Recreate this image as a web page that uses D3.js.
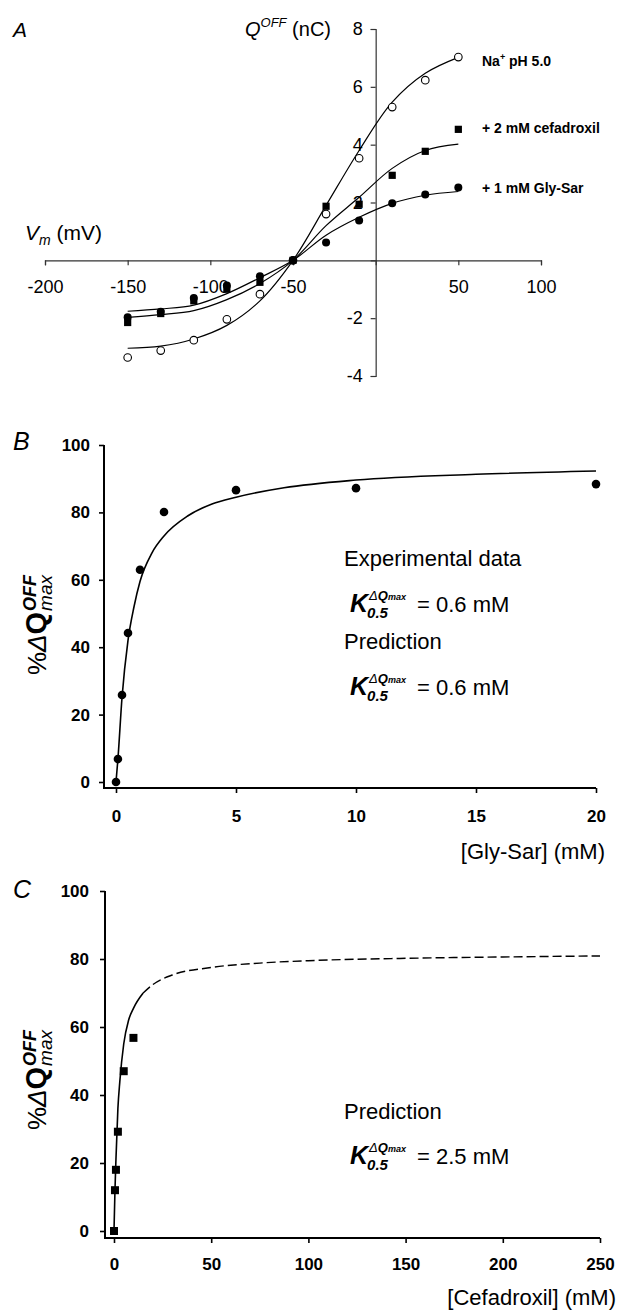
<!DOCTYPE html>
<html>
<head>
<meta charset="utf-8">
<script src="https://cdn.jsdelivr.net/npm/d3@7"></script>
<style>
  body { margin: 0; background: #fff; }
  svg { display: block; }
  text { font-family: "Liberation Sans", Arial, Helvetica, sans-serif; fill: #000; }
</style>
</head>
<body>
<svg id="fig" width="637" height="1311"></svg>
<script>
// ---- panel A: charge–voltage data ----
const voltages = [-150, -130, -110, -90, -70, -50, -30, -10, 10, 30, 50];
const qNaPH5 = [-3.36, -3.12, -2.76, -2.04, -1.17, 0, 1.6, 3.53, 5.3, 6.23, 7.03];
const qCefadroxil = [-2.15, -1.84, -1.4, -1.0, -0.76, 0, 1.87, 1.94, 2.94, 3.77, 4.53];
const qGlySar = [-1.97, -1.78, -1.3, -0.87, -0.55, 0, 0.62, 1.38, 1.97, 2.28, 2.52];
// fitted curves
const fitNaPH5 = [-3.04, -2.97, -2.72, -2.25, -1.4, 0, 1.9, 3.8, 5.47, 6.47, 7.02];
const fitCefadroxil = [-1.97, -1.88, -1.74, -1.36, -0.8, 0, 1.2, 2.18, 3.18, 3.8, 4.02];
const fitGlySar = [-1.76, -1.68, -1.55, -1.15, -0.6, 0, 0.87, 1.49, 1.97, 2.25, 2.38];
const vTicks = [-200, -150, -100, -50, 0, 50, 100];
const qTicks = [-4, -2, 0, 2, 4, 6, 8];
const seriesLabels = ["Na\u207A pH 5.0", "+ 2 mM cefadroxil", "+ 1 mM Gly-Sar"];

// ---- panel B: Gly-Sar dose response ----
const glySarConc = [0, 0.08, 0.25, 0.5, 1, 2, 5, 10, 20];
const glySarPct = [0, 6.8, 25.8, 44.2, 63, 80.1, 86.6, 87.2, 88.4];
const glySarFitConc = [0, 0.08, 0.25, 0.5, 0.75, 1, 1.5, 2, 3, 4, 5, 7, 10, 15, 20];
const glySarFitPct = [0, 6.8, 25, 42, 52, 59.5, 68, 73, 79, 82.5, 84.5, 87.3, 89.6, 91.3, 92.3];
const glySarTicks = [0, 5, 10, 15, 20];

// ---- panel C: cefadroxil dose response ----
const cefConc = [0, 0.5, 1, 2, 5, 10];
const cefPct = [0, 12, 18, 29.2, 47, 56.8];
const cefFitConc = [0, 0.5, 1, 2, 3, 5, 7.5, 10, 15];
const cefFitPct = [0, 12, 21, 36, 44, 55, 62, 65.5, 70];
const cefPredConc = [15, 20, 30, 50, 75, 100, 150, 200, 250];
const cefPredPct = [70, 72.5, 75.3, 77.5, 78.8, 79.5, 80.2, 80.6, 80.9];
const cefTicks = [0, 50, 100, 150, 200, 250];
const pctTicks = [0, 20, 40, 60, 80, 100];

const svg = d3.select("#fig");
const FONT = '"Liberation Sans", Arial, Helvetica, sans-serif';

// d3.axis writes font attrs on the group it is called on, so set ours afterwards
function styleAxis(g, size, weight) {
  g.attr("font-family", FONT).attr("font-size", size).attr("font-weight", weight);
  g.selectAll("text").attr("fill", "#000");
}

// ================= Panel A =================
const xA = d3.scaleLinear().domain([-200, 100]).range([45, 541]);
const yA = d3.scaleLinear().domain([-4, 8]).range([376, 29]);
const gA = svg.append("g");

const hideZero = d => (d === 0 ? "" : String(d));
const axA = gA.append("g");
axA.append("g")
  .attr("transform", `translate(0,${yA(0)})`)
  .call(d3.axisBottom(xA).tickValues(vTicks).tickSize(5).tickPadding(15).tickFormat(hideZero))
  .call(styleAxis, 18, "normal");
axA.append("g")
  .attr("transform", `translate(${xA(0)},0)`)
  .call(d3.axisLeft(yA).tickValues(qTicks).tickSize(5).tickPadding(8).tickFormat(hideZero))
  .call(styleAxis, 18, "normal");
axA.selectAll("path, line").attr("stroke", "#333").attr("stroke-width", 1.2);

const lineA = d3.line()
  .x(d => xA(d[0])).y(d => yA(d[1]))
  .curve(d3.curveCatmullRom.alpha(0.5));
[fitNaPH5, fitCefadroxil, fitGlySar].forEach(fit => {
  gA.append("path")
    .attr("d", lineA(d3.zip(voltages, fit)))
    .attr("fill", "none").attr("stroke", "#000").attr("stroke-width", 1.2);
});

gA.append("g").selectAll("circle")
  .data(d3.zip(voltages, qNaPH5)).join("circle")
  .attr("cx", d => xA(d[0])).attr("cy", d => yA(d[1])).attr("r", 3.8)
  .attr("fill", "#fff").attr("stroke", "#000").attr("stroke-width", 1.1);
gA.append("g").selectAll("circle")
  .data(d3.zip(voltages, qGlySar)).join("circle")
  .attr("cx", d => xA(d[0])).attr("cy", d => yA(d[1])).attr("r", 4)
  .attr("fill", "#000");
gA.append("g").selectAll("rect")
  .data(d3.zip(voltages, qCefadroxil)).join("rect")
  .attr("x", d => xA(d[0]) - 3.6).attr("y", d => yA(d[1]) - 3.6)
  .attr("width", 7.2).attr("height", 7.2).attr("fill", "#000");

// axis titles
const qTitle = gA.append("text").attr("x", 245).attr("y", 36).attr("font-size", 20);
qTitle.append("tspan").attr("font-style", "italic").text("Q");
qTitle.append("tspan").attr("font-style", "italic").attr("font-size", 13).attr("dy", -9).text("OFF");
qTitle.append("tspan").attr("dy", 9).text(" (nC)");

const vTitle = gA.append("text").attr("x", 25).attr("y", 240).attr("font-size", 21);
vTitle.append("tspan").attr("font-style", "italic").text("V");
vTitle.append("tspan").attr("font-style", "italic").attr("font-size", 14).attr("dy", 5).text("m");
vTitle.append("tspan").attr("dy", -5).text(" (mV)");

// series labels
const labelY = [66, 133, 193];
seriesLabels.forEach((s, i) => {
  const t = gA.append("text").attr("x", 482).attr("y", labelY[i])
    .attr("font-size", 14).attr("font-weight", "bold");
  if (i === 0) {
    t.append("tspan").text("Na");
    t.append("tspan").attr("font-size", 9).attr("dy", -6).text("+");
    t.append("tspan").attr("dy", 6).text(" pH 5.0");
  } else {
    t.text(s);
  }
});

gA.append("text").attr("x", 13).attr("y", 37).attr("font-size", 21)
  .attr("font-style", "italic").text("A");

// ================= helpers for B and C =================
function satAxes(g, x, y, xTicks, opt) {
  const ax = g.append("g");
  ax.append("g")
    .attr("transform", `translate(0,${opt.axisY})`)
    .call(d3.axisBottom(x).tickValues(xTicks).tickSize(5).tickPadding(opt.xPad).tickFormat(d3.format("d")))
    .call(styleAxis, 17, "bold");
  ax.append("g")
    .attr("transform", `translate(${opt.axisX},0)`)
    .call(d3.axisLeft(y).tickValues(pctTicks).tickSize(5).tickPadding(opt.yPad).tickFormat(d3.format("d")))
    .call(styleAxis, 17, "bold");
  ax.selectAll(".domain").remove();
  ax.selectAll("line").attr("stroke", "#000").attr("stroke-width", 1.6);
  const xr = x.range(), yr = y.range();
  g.append("path")
    .attr("d", `M${opt.axisX},${yr[1]}V${opt.axisY}H${xr[1]}`)
    .attr("fill", "none").attr("stroke", "#000").attr("stroke-width", 2);
}

function pctLabel(cx, cy) {
  const g = svg.append("g").attr("transform", `translate(${cx},${cy}) rotate(-90)`);
  const inner = g.append("g");
  const t = inner.append("text").attr("x", 0).attr("y", 0);
  t.append("tspan").attr("font-size", 26).text("%");
  t.append("tspan").attr("font-size", 26).attr("font-style", "italic").text("\u0394");
  t.append("tspan").attr("font-size", 29).attr("font-weight", "bold").text("Q");
  const w = t.node().getComputedTextLength();
  const sup = inner.append("text").attr("x", w + 1).attr("y", -10)
    .attr("font-size", 18).attr("font-weight", "bold").attr("font-style", "italic").text("OFF");
  const sub = inner.append("text").attr("x", w + 1).attr("y", 6)
    .attr("font-size", 19).attr("font-style", "italic").text("max");
  const total = w + 1 + Math.max(sup.node().getComputedTextLength(), sub.node().getComputedTextLength());
  inner.attr("transform", `translate(${-total / 2},0)`);
}

function kLabel(x, y, value) {
  const g = svg.append("g");
  const k = g.append("text").attr("x", x).attr("y", y).attr("font-size", 25)
    .attr("font-weight", "bold").attr("font-style", "italic").text("K");
  const kw = k.node().getComputedTextLength();
  const sup = g.append("text").attr("x", kw + x + 1).attr("y", y - 12)
    .attr("font-size", 13).attr("font-weight", "bold").attr("font-style", "italic");
  sup.append("tspan").attr("font-weight", "normal").text("\u0394");
  sup.append("tspan").text("Q");
  sup.append("tspan").attr("font-size", 9).text("max");
  g.append("text").attr("x", x + kw - 1).attr("y", y + 6).attr("font-size", 15)
    .attr("font-weight", "bold").attr("font-style", "italic").text("0.5");
  g.append("text").attr("x", x + 67).attr("y", y).attr("font-size", 22).text(`= ${value} mM`);
}

// ================= Panel B =================
const xB = d3.scaleLinear().domain([0, 20]).range([116, 596]);
const yB = d3.scaleLinear().domain([0, 100]).range([782, 445]);
const gB = svg.append("g");
satAxes(gB, xB, yB, glySarTicks, { axisX: 104, axisY: 788, xPad: 17, yPad: 9 });

gB.append("path")
  .attr("d", d3.line().x(d => xB(d[0])).y(d => yB(d[1])).curve(d3.curveMonotoneX)(d3.zip(glySarFitConc, glySarFitPct)))
  .attr("fill", "none").attr("stroke", "#000").attr("stroke-width", 1.6);
gB.append("g").selectAll("circle")
  .data(d3.zip(glySarConc, glySarPct)).join("circle")
  .attr("cx", d => xB(d[0])).attr("cy", d => yB(d[1])).attr("r", 4.3).attr("fill", "#000");

gB.append("text").attr("x", 605).attr("y", 859).attr("font-size", 22)
  .attr("text-anchor", "end").text("[Gly-Sar] (mM)");
gB.append("text").attr("x", 13).attr("y", 450).attr("font-size", 25)
  .attr("font-style", "italic").text("B");
gB.append("text").attr("x", 344).attr("y", 566).attr("font-size", 22).text("Experimental data");
kLabel(350, 612, "0.6");
gB.append("text").attr("x", 344).attr("y", 649).attr("font-size", 22).text("Prediction");
kLabel(350, 695, "0.6");
pctLabel(46, 625);

// ================= Panel C =================
const xC = d3.scaleLinear().domain([0, 250]).range([114, 600]);
const yC = d3.scaleLinear().domain([0, 100]).range([1231, 891]);
const gC = svg.append("g");
satAxes(gC, xC, yC, cefTicks, { axisX: 105, axisY: 1238, xPad: 15, yPad: 11 });

const lineC = d3.line().x(d => xC(d[0])).y(d => yC(d[1])).curve(d3.curveMonotoneX);
gC.append("path")
  .attr("d", lineC(d3.zip(cefFitConc, cefFitPct)))
  .attr("fill", "none").attr("stroke", "#000").attr("stroke-width", 1.6);
gC.append("path")
  .attr("d", lineC(d3.zip(cefPredConc, cefPredPct)))
  .attr("fill", "none").attr("stroke", "#000").attr("stroke-width", 1.4)
  .attr("stroke-dasharray", "9,4");
gC.append("g").selectAll("rect")
  .data(d3.zip(cefConc, cefPct)).join("rect")
  .attr("x", d => xC(d[0]) - 4).attr("y", d => yC(d[1]) - 4)
  .attr("width", 8).attr("height", 8).attr("fill", "#000");

gC.append("text").attr("x", 616).attr("y", 1305).attr("font-size", 22)
  .attr("text-anchor", "end").text("[Cefadroxil] (mM)");
gC.append("text").attr("x", 13).attr("y", 898).attr("font-size", 25)
  .attr("font-style", "italic").text("C");
gC.append("text").attr("x", 344).attr("y", 1119).attr("font-size", 22).text("Prediction");
kLabel(350, 1164, "2.5");
pctLabel(46, 1080);
</script>
</body>
</html>
